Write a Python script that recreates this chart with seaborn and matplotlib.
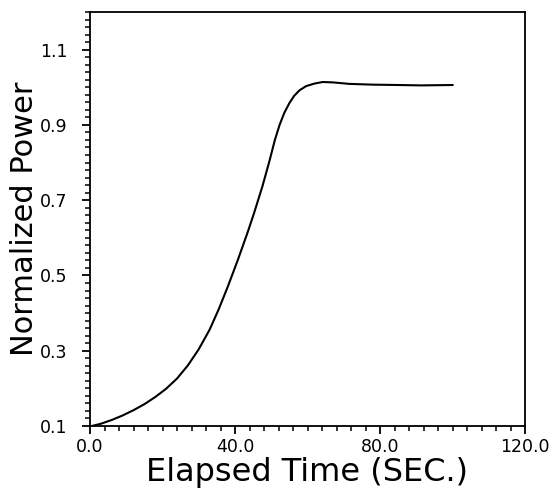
import numpy as np
import pandas as pd
import matplotlib
matplotlib.use("Agg")
import matplotlib.pyplot as plt
from matplotlib.ticker import MultipleLocator, FixedLocator
import seaborn as sns

# Data
time_s = [0.5, 3.0, 6.0, 9.0, 12.0, 15.0, 18.0, 21.0, 24.0, 27.0, 30.0, 33.0,
          35.5, 38.0, 40.7, 43.5, 45.3, 47.6, 49.5, 51.0, 52.3, 53.6, 55.0,
          56.3, 57.8, 59.6, 62.0, 64.2, 67.0, 71.5, 77.9, 85.0, 91.3, 100.1]
power = [0.100, 0.106, 0.116, 0.128, 0.142, 0.158, 0.177, 0.199, 0.226, 0.261,
         0.304, 0.356, 0.410, 0.470, 0.539, 0.615, 0.667, 0.738, 0.804, 0.860,
         0.900, 0.932, 0.958, 0.977, 0.992, 1.003, 1.010, 1.014, 1.013, 1.009,
         1.007, 1.006, 1.005, 1.006]

x_ticks = [0.0, 40.0, 80.0, 120.0]
x_tick_labels = ["0.0", "40.0", "80.0", "120.0"]
y_ticks = [0.1, 0.3, 0.5, 0.7, 0.9, 1.1]
y_tick_labels = ["0.1", "0.3", "0.5", "0.7", "0.9", "1.1"]

df = pd.DataFrame({"Elapsed Time (SEC.)": time_s, "Normalized Power": power})

sns.set_style("ticks")
plt.rcParams["font.family"] = ["DejaVu Sans"]

fig = plt.figure(figsize=(5.5, 4.91), dpi=100)
ax = fig.add_axes([90 / 550, 1 - 426 / 491, 435 / 550, 414 / 491])

sns.lineplot(data=df, x="Elapsed Time (SEC.)", y="Normalized Power",
             color="black", linewidth=1.5, sort=False, estimator=None, ax=ax)

ax.set_xlim(0, 120)
ax.set_ylim(0.1, 1.2)
ax.xaxis.set_major_locator(FixedLocator(x_ticks))
ax.set_xticklabels(x_tick_labels)
ax.yaxis.set_major_locator(FixedLocator(y_ticks))
ax.set_yticklabels(y_tick_labels)
ax.xaxis.set_minor_locator(MultipleLocator(4))
ax.yaxis.set_minor_locator(MultipleLocator(0.02))

ax.tick_params(axis="both", which="major", direction="out", length=6,
               width=1.3, labelsize=12.5, colors="black")
ax.tick_params(axis="x", which="major", pad=3)
ax.tick_params(axis="y", which="major", pad=10)
ax.tick_params(axis="both", which="minor", direction="out", length=3.3,
               width=1.1, colors="black")
ax.tick_params(top=False, right=False, which="both")

for s in ax.spines.values():
    s.set_visible(True)
    s.set_linewidth(1.3)
    s.set_color("black")

ax.set_xlabel("Elapsed Time (SEC.)", fontsize=23, labelpad=0, color="black")
ax.set_ylabel("Normalized Power", fontsize=22, labelpad=1, color="black")

fig.savefig("out.png", dpi=100, facecolor="white")
